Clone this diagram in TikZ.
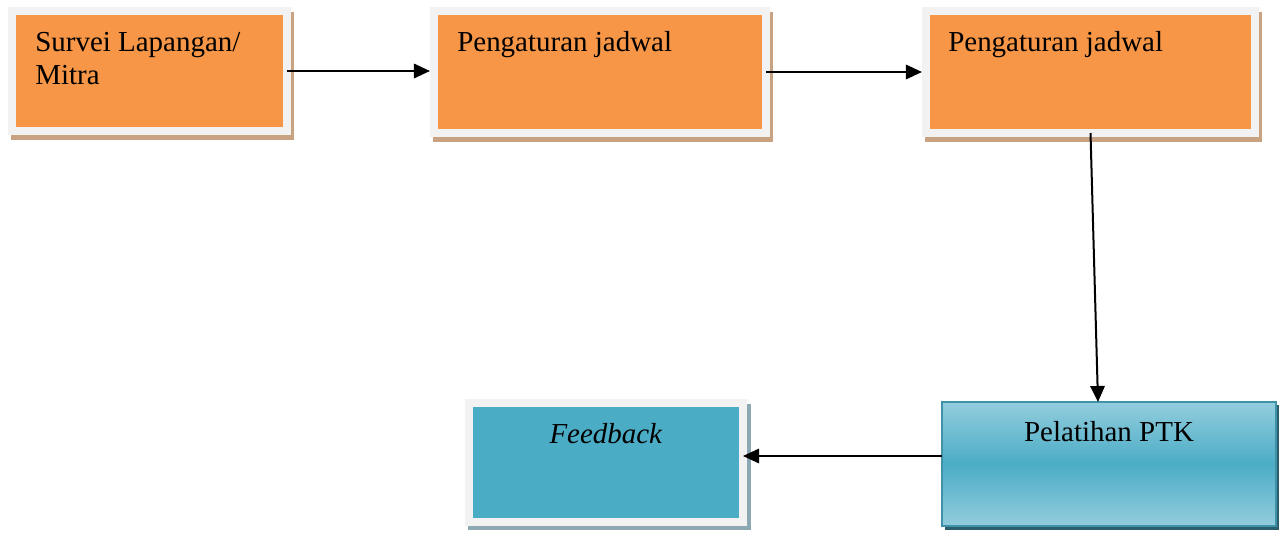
\documentclass[tikz,border=0pt]{standalone}
\usepackage{fontspec}
\setmainfont{Liberation Serif}
\usetikzlibrary{arrows.meta}
\definecolor{oranye}{HTML}{F79646}
\definecolor{bingkai}{HTML}{F2F2F2}
\definecolor{coklat}{HTML}{C9A282}
\definecolor{biru}{HTML}{4BACC6}
\definecolor{birumuda}{HTML}{93CDDD}
\definecolor{bayangbiru}{HTML}{8CA8B3}
\definecolor{bayanggelap}{HTML}{2A5F6E}
\begin{document}
\begin{tikzpicture}[x=0.025cm,y=-0.025cm,
    font=\fontsize{20.6}{23.5}\selectfont,
    kotak/.style={draw=bingkai, line width=0.2cm, fill=oranye, inner sep=0, outer sep=0},
    kotakbiru/.style={draw=bingkai, line width=0.2cm, fill=biru, inner sep=0, outer sep=0},
    tulisan/.style={inner sep=0, align=left},
    pil/.style={-{Triangle[length=0.4cm,width=0.36cm]}, line width=0.05cm}]
    \useasboundingbox (0,0) rectangle (1280,532);

    %Bayangan
        \fill[coklat] (11,12) rectangle (294,140);
        \fill[coklat] (433,12) rectangle (773,142);
        \fill[coklat] (925,12) rectangle (1262,142);
        \fill[bayangbiru] (468,404) rectangle (751,530);
        \fill[bayanggelap] (945,405) rectangle (1279,530);

    %Kotak
        \node[kotak, minimum width=6.875cm, minimum height=3cm] (survei) at (149.5,71) {};
        \node[kotak, minimum width=8.3cm, minimum height=3.05cm] (jadwalsatu) at (600,72) {};
        \node[kotak, minimum width=8.225cm, minimum height=3.05cm] (jadwaldua) at (1090.5,72) {};
        \node[kotakbiru, minimum width=6.85cm, minimum height=2.975cm] (feedback) at (606,462.5) {};
        \node[draw=biru!85!black, line width=0.04cm, top color=birumuda, bottom color=birumuda, middle color=biru,
              minimum width=8.35cm, minimum height=3.1cm, inner sep=0, outer sep=0] (pelatihan) at (1109,464) {};

    %Tulisan
        \node[tulisan, anchor=base west] (tsurvei) at (35,85) {Survei Lapangan/\\Mitra};
        \node[tulisan, anchor=base west] (tjadwalsatu) at (457,52) {Pengaturan jadwal};
        \node[tulisan, anchor=base west] (tjadwaldua) at (948,52) {Pengaturan jadwal};
        \node[tulisan, anchor=base] (tfeedback) at (606,443) {\textit{Feedback}};
        \node[tulisan, anchor=base] (tpelatihan) at (1109,441) {Pelatihan PTK};

    %Panah
        \coordinate (ujung) at ([yshift=0.2cm]pelatihan.west);
        \draw[pil] (survei.east) -- ([xshift=-0.1cm]jadwalsatu.west |- survei.east);
        \draw[pil] (jadwalsatu.east) -- ([xshift=-0.1cm]jadwaldua.west);
        \draw[pil] (jadwaldua.south) -- ([xshift=-0.275cm]pelatihan.north);
        \draw[pil] (ujung) -- (feedback.east |- ujung);
\end{tikzpicture}
\end{document}
